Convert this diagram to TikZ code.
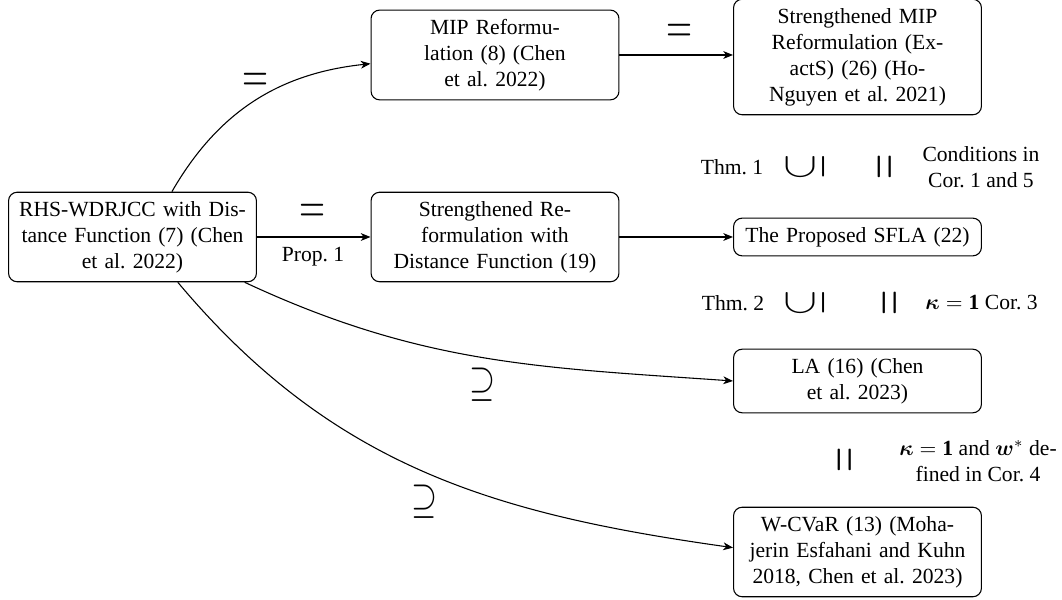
\documentclass[tikz,border=0pt]{standalone}
\usepackage{fontspec}
\setmainfont{Liberation Serif}
\usepackage{amsmath}
\usepackage{graphicx}
\usetikzlibrary{arrows.meta}
\begin{document}
\begin{tikzpicture}[x=0.463pt,y=0.463pt,
  box/.style={draw, rounded corners=4pt, text width=3.8cm, align=center,
    inner xsep=3.33pt, inner ysep=4.2pt, line width=0.5pt,
    font=\fontsize{10}{12}\selectfont\frenchspacing},
  lbl/.style={font=\fontsize{10}{12}\selectfont\frenchspacing, align=center, inner sep=0pt},
  arr/.style={-{Stealth[length=4.5pt,width=3.6pt,inset=1.3pt]}, line width=0.5pt},
  sym/.style={inner sep=0pt}]
\useasboundingbox (0,0) rectangle (1062,600);

% boxes
\node[box] (A) at (132.5,363) {RHS-WDRJCC with Dis-\\tance Function (7) (Chen\\et al. 2022)};
\node[box] (B) at (495,545) {MIP Reformu-\\lation (8) (Chen\\et al. 2022)};
\node[box] (C) at (857.5,543) {Strengthened MIP\\Reformulation (Ex-\\actS) (26) (Ho-\\Nguyen et al. 2021)};
\node[box] (D) at (495,363) {Strengthened Re-\\formulation with\\Distance Function (19)};
\node[box] (E) at (857.5,363) {The Proposed SFLA (22)};
\node[box] (F) at (857.5,219) {LA (16) (Chen\\et al. 2023)};
\node[box] (G) at (857.5,48) {W-CVaR (13) (Moha-\\jerin Esfahani and Kuhn\\2018, Chen et al. 2023)};

% connectors
\draw[arr] (A.49) to[out=60,in=186] (B.184);
\draw[arr] (A) -- (D);
\draw[arr] (B.east) -- (B.east -| C.west);
\draw[arr] (D) -- (E);
\draw[arr] (A.-22) to[out=-25,in=176] (F.west);
\draw[arr] (A.-45) to[out=-50,in=172] (G.178);

% relation symbols and labels
\node[sym] (eq1) at (256,518) {\scalebox{1.55}[2.3]{$=$}};
\node[sym] (eq2) at (313,387) {\scalebox{1.55}[2.3]{$=$}};
\node[lbl] (prop) at (313,343) {Prop. 1};
\node[sym] (eq3) at (680,567) {\scalebox{1.55}[2.3]{$=$}};

\node[lbl] (thm1) at (732,433) {Thm. 1};
\node[sym,rotate=90] (sub1) at (805,433) {\scalebox{1.6}[2.3]{$\subseteq$}};
\node[sym,rotate=90] (req1) at (888,433) {\scalebox{1.5}[2.6]{$=$}};
\node[lbl] (cond1) at (981,433) {Conditions in\\Cor. 1 and 5};

\node[lbl] (thm2) at (733,297) {Thm. 2};
\node[sym,rotate=90] (sub2) at (805,297) {\scalebox{1.6}[2.3]{$\subseteq$}};
\node[sym,rotate=90] (req2) at (893,297) {\scalebox{1.5}[2.6]{$=$}};
\node[lbl,anchor=west] (cond2) at (925,297) {$\boldsymbol{\kappa} = \mathbf{1}$ Cor. 3};

\node[sym,rotate=90] (req3) at (848,140) {\scalebox{1.5}[2.6]{$=$}};
\node[lbl] (cond3) at (978,139) {$\boldsymbol{\kappa} = \mathbf{1}$ and $\boldsymbol{w}^{*}$ de-\\fined in Cor. 4};

\node[sym] (sup1) at (483,215) {\scalebox{1.55}[2.0]{$\supseteq$}};
\node[sym] (sup2) at (425,98) {\scalebox{1.55}[2.0]{$\supseteq$}};
\end{tikzpicture}
\end{document}
